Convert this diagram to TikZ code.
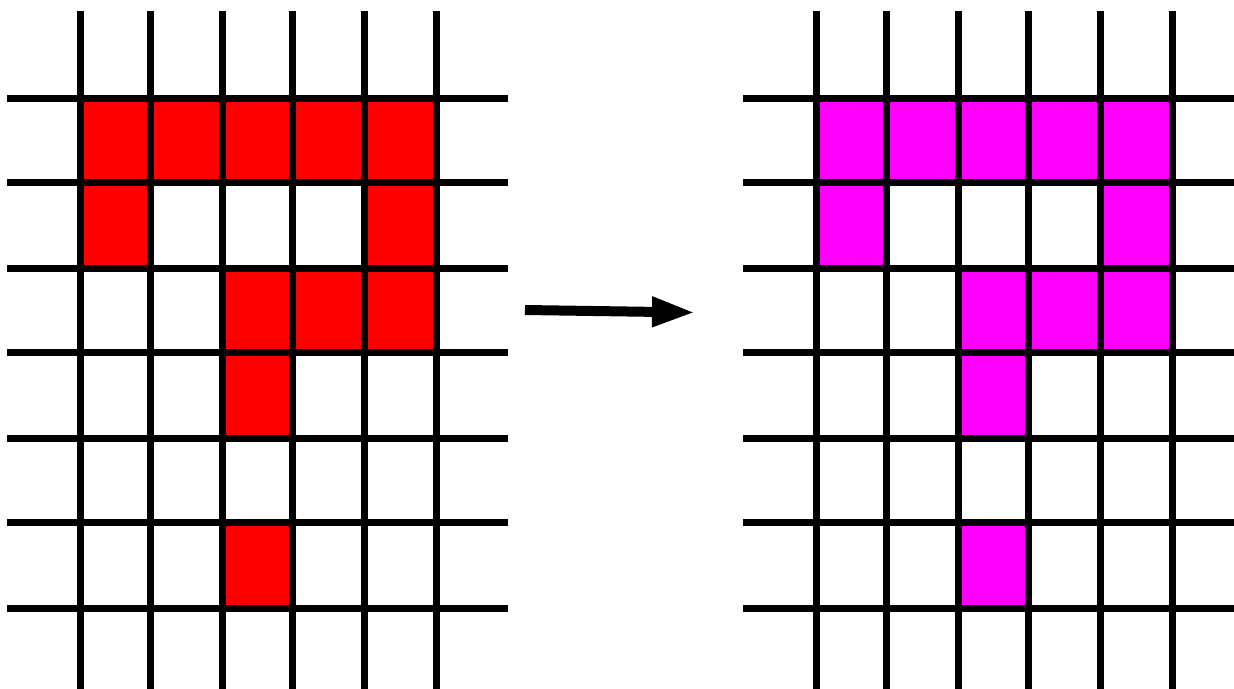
\documentclass[tikz,border=0pt]{standalone}
\usetikzlibrary{arrows.meta}
\definecolor{redcell}{RGB}{255,0,0}
\definecolor{pinkcell}{RGB}{255,0,255}
\tikzset{gridline/.style={line width=0.14cm, line cap=butt}}
\begin{document}
\begin{tikzpicture}[x=0.02cm, y=-0.02cm]
\useasboundingbox (0,0) rectangle (1234,689);

% left grid, red cells
\fill[redcell] (80.5,98.5) rectangle (436.5,182.5);
\fill[redcell] (80.5,182.5) rectangle (150.5,268.5);
\fill[redcell] (364.5,182.5) rectangle (436.5,268.5);
\fill[redcell] (222.5,268.5) rectangle (436.5,352.5);
\fill[redcell] (222.5,352.5) rectangle (292.5,438.5);
\fill[redcell] (222.5,522.5) rectangle (292.5,608.5);
\foreach \x in {80.5,150.5,222.5,292.5,364.5,436.5}
  \draw[gridline] (\x,11) -- (\x,689);
\foreach \y in {98.5,182.5,268.5,352.5,438.5,522.5,608.5}
  \draw[gridline] (7,\y) -- (508,\y);

% right grid, magenta cells
\begin{scope}[shift={(736,0)}]
\fill[pinkcell] (80.5,98.5) rectangle (436.5,182.5);
\fill[pinkcell] (80.5,182.5) rectangle (150.5,268.5);
\fill[pinkcell] (364.5,182.5) rectangle (436.5,268.5);
\fill[pinkcell] (222.5,268.5) rectangle (436.5,352.5);
\fill[pinkcell] (222.5,352.5) rectangle (292.5,438.5);
\fill[pinkcell] (222.5,522.5) rectangle (292.5,608.5);
\foreach \x in {80.5,150.5,222.5,292.5,364.5,436.5}
  \draw[gridline] (\x,11) -- (\x,689);
\foreach \y in {98.5,182.5,268.5,352.5,438.5,522.5,608.5}
  \draw[gridline] (7,\y) -- (498,\y);
\end{scope}

% arrow
\coordinate (from) at (525,310);
\coordinate (to) at (695,312.5);
\draw[line width=0.2cm, -{Triangle[length=0.86cm, width=0.56cm]}] (from) -- (to);
\end{tikzpicture}
\end{document}
